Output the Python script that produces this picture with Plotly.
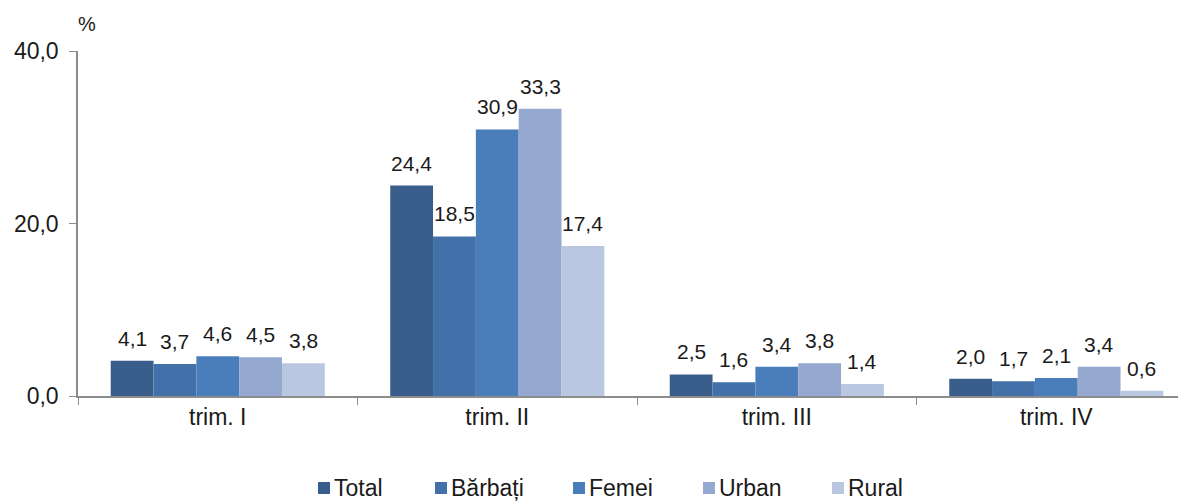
import plotly.graph_objects as go

categories = ["trim. I", "trim. II", "trim. III", "trim. IV"]
series_names = ["Total", "Bărbați", "Femei", "Urban", "Rural"]
total = [4.1, 24.4, 2.5, 2.0]
barbati = [3.7, 18.5, 1.6, 1.7]
femei = [4.6, 30.9, 3.4, 2.1]
urban = [4.5, 33.3, 3.8, 3.4]
rural = [3.8, 17.4, 1.4, 0.6]
y_ticks = [0, 20, 40]

series_values = [total, barbati, femei, urban, rural]
colors = ["#3A5E8C", "#4270A8", "#4A7EBB", "#95A9D0", "#B9C7E1"]

FONT = "Liberation Sans, Arial, sans-serif"
TXT = "#1a1a1a"
BARGAP = 0.234

# page body has an 8px margin; figure sized so it fills the 1186x504 window
OFF = 8
W, H = 1186 - OFF, 504 - OFF
PLOT_LEFT, PLOT_TOP, PLOT_BOTTOM = 78, 51, 396  # in window pixels
ML, MR, MT = PLOT_LEFT - OFF, 0, PLOT_TOP - OFF
MB = H - (PLOT_BOTTOM - OFF)
PW, PH = W - ML - MR, H - MT - MB


def px_x(vx):
    return (vx - OFF - ML) / PW


def px_y(vy):
    return (H - MB - (vy - OFF)) / PH


fig = go.Figure()
annotations = []
n = len(series_names)
slot = (1 - BARGAP) / n
for i, (name, vals, col) in enumerate(zip(series_names, series_values, colors)):
    fig.add_trace(go.Bar(
        x=categories, y=vals, name=name,
        marker=dict(color=col, line=dict(width=0)),
        showlegend=False,
    ))
    # data labels above each bar (Excel places them with a larger gap than plotly's default)
    offset = (i - (n - 1) / 2) * slot
    for ci, v in enumerate(vals):
        annotations.append(dict(
            x=ci + offset, y=v, xref="x", yref="y",
            text=f"{v:.1f}".replace(".", ","),
            xanchor="center", yanchor="bottom", yshift=9, showarrow=False,
            font=dict(family=FONT, size=21, color=TXT),
        ))

# manual legend (Excel-style: small square + label, items spaced by label length)
legend_left_px = [318, 435, 573, 703, 832]
legend_y_px = 488
shapes = []
for name, col, lx in zip(series_names, colors, legend_left_px):
    shapes.append(dict(type="rect", xref="paper", yref="paper",
                       x0=px_x(lx), x1=px_x(lx + 12),
                       y0=px_y(legend_y_px + 6), y1=px_y(legend_y_px - 6),
                       fillcolor=col, line=dict(width=0)))
    annotations.append(dict(text=name, xref="paper", yref="paper",
                            x=px_x(lx + 14), y=px_y(legend_y_px),
                            xanchor="left", yanchor="middle", showarrow=False,
                            font=dict(family=FONT, size=23, color=TXT)))

annotations.append(dict(text="%", xref="paper", yref="paper",
                        x=px_x(87), y=px_y(24),
                        xanchor="center", yanchor="middle", showarrow=False,
                        font=dict(family=FONT, size=20, color=TXT)))

fig.update_layout(
    width=W, height=H,
    margin=dict(l=ML, r=MR, t=MT, b=MB, autoexpand=False),
    paper_bgcolor="white", plot_bgcolor="white",
    barmode="group", bargap=BARGAP, bargroupgap=0,
    separators=", ",
    font=dict(family=FONT, size=21, color=TXT),
    showlegend=False,
    xaxis=dict(
        type="category", range=[-0.5, 3.464], automargin=False,
        showline=True, linecolor="#8c8c8c", linewidth=1.5,
        ticks="outside", tickson="boundaries", ticklen=7, tickcolor="#8c8c8c",
        showgrid=False, tickfont=dict(family=FONT, size=23, color=TXT),
    ),
    yaxis=dict(
        range=[0, 40], tickvals=y_ticks, tickformat=".1f", automargin=False,
        showline=True, linecolor="#8c8c8c", linewidth=1.5,
        ticks="outside", ticklen=7, tickcolor="#8c8c8c", ticklabelstandoff=6,
        showgrid=False, zeroline=False,
        tickfont=dict(family=FONT, size=23, color=TXT),
    ),
    shapes=shapes,
    annotations=annotations,
)

fig.write_html("out.html")
